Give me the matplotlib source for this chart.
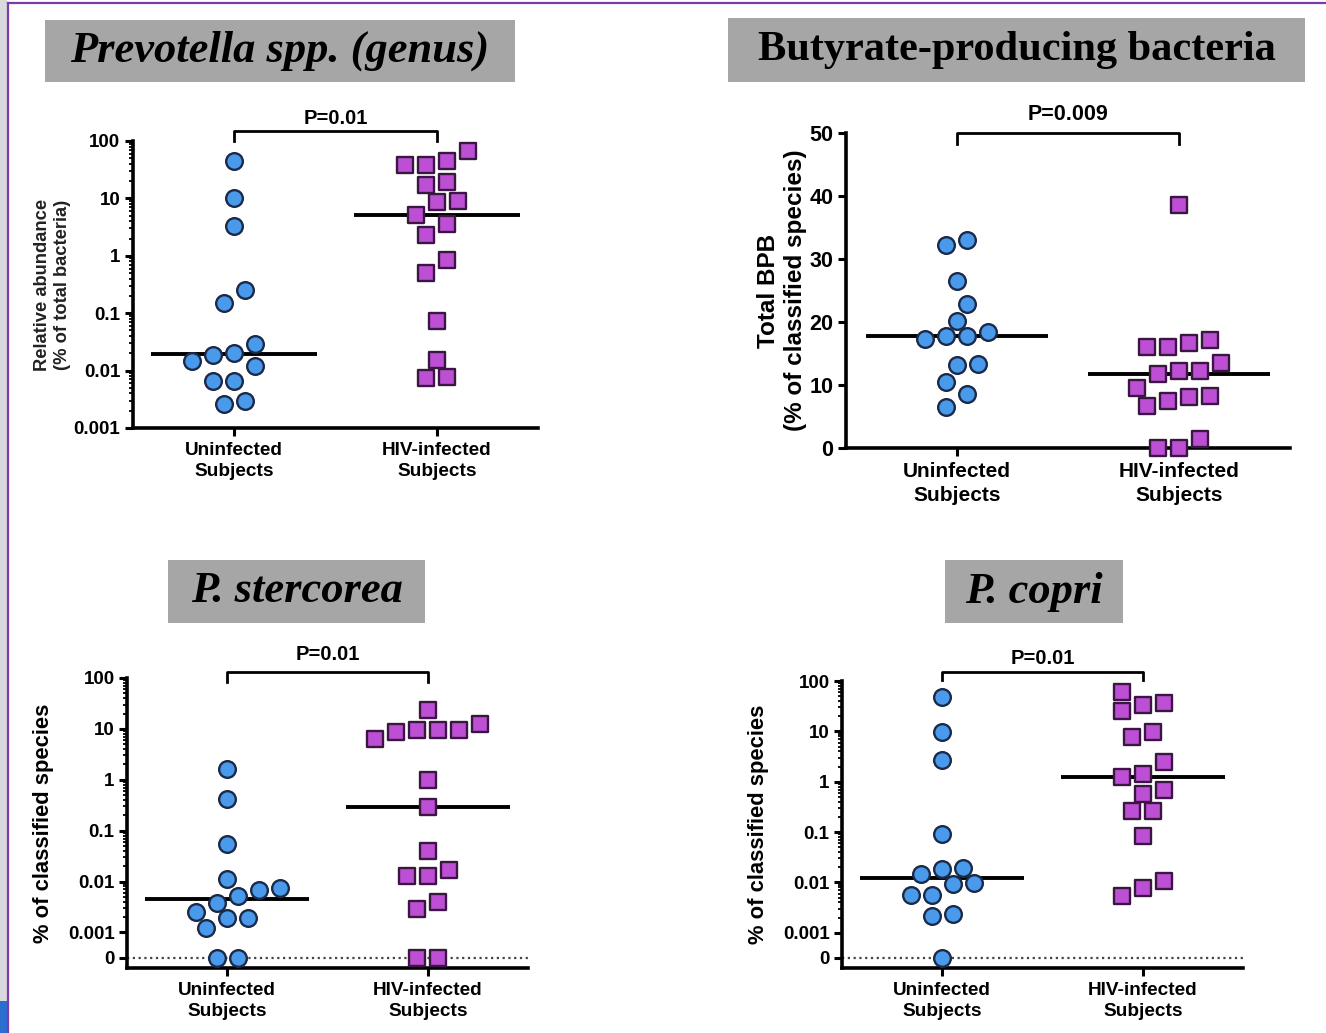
import numpy as np
import matplotlib
matplotlib.use("Agg")
import matplotlib.pyplot as plt
from matplotlib.patches import Rectangle
from matplotlib.markers import MarkerStyle
from matplotlib.transforms import blended_transform_factory

W, H = 1326, 1033

groups = ["Uninfected\nSubjects", "HIV-infected\nSubjects"]

# Prevotella spp. (genus), % of total bacteria
prev_uninf = [45, 10, 3.3, 0.25, 0.15, 0.029, 0.0145, 0.0185, 0.020, 0.012,
              0.0066, 0.0066, 0.0026, 0.003]
prev_hiv = [67, 38, 38, 45, 17, 19, 8.6, 9, 5.2, 3.6, 2.3, 0.85, 0.5, 0.072,
            0.015, 0.0073, 0.0077]

# total butyrate-producing bacteria, % of classified species
bpb_uninf = [33.0, 32.3, 26.5, 22.8, 20.1, 17.8, 17.3, 17.7, 18.4, 13.1, 13.3,
             10.4, 8.6, 6.5]
bpb_hiv = [38.5, 17.1, 16.1, 16.0, 16.7, 13.5, 12.2, 11.8, 12.3, 8.3, 7.5, 6.7,
           8.05, 9.5, 1.4, 0, 0]

# P. stercorea, % of classified species
sterc_uninf = [1.6, 0.42, 0.055, 0.011, 0.0067, 0.0073, 0.0053, 0.0038, 0.0025,
               0.0019, 0.0019, 0.0012, 0, 0]
sterc_hiv = [23, 9.4, 9.4, 6.3, 8.5, 9.4, 12.6, 0.97, 0.29, 0.04, 0.0166,
             0.0126, 0.0128, 0.0039, 0.0029, 0, 0]

# P. copri, % of classified species
copri_uninf = [48, 9.5, 2.7, 0.093, 0.019, 0.0185, 0.0147, 0.0091, 0.0098,
               0.0055, 0.0055, 0.0024, 0.0022, 0]
copri_hiv = [60, 36, 25, 33, 9.7, 7.6, 2.5, 1.26, 1.4, 0.57, 0.69, 0.26, 0.26,
             0.085, 0.0105, 0.0053, 0.0078]

titles = ["Prevotella spp. (genus)", "Butyrate-producing bacteria",
          "P. stercorea", "P. copri"]
p_values = ["P=0.01", "P=0.009", "P=0.01", "P=0.01"]

log_ticks = [0.001, 0.01, 0.1, 1, 10, 100]
log_labels = ["0.001", "0.01", "0.1", "1", "10", "100"]
zlog_ticks = [0] + log_ticks
zlog_labels = ["0"] + log_labels
lin_ticks = [0, 10, 20, 30, 40, 50]

BLUE, BLUE_EDGE = "#4A9AEC", "#1B2A48"
PURPLE, PURPLE_EDGE = "#BD4FD5", "#3A1740"
BOX = "#A6A6A6"
MS = 12.0

plt.rcParams["font.family"] = ["Liberation Sans", "DejaVu Sans"]

fig = plt.figure(figsize=(W / 100, H / 100), dpi=100)


def px_axes(left, top, right, bottom):
    return fig.add_axes([left / W, 1 - bottom / H, (right - left) / W,
                         (bottom - top) / H])


def title_box(x0, y0, x1, y1, text, style, size):
    fig.patches.append(Rectangle((x0 / W, 1 - y1 / H), (x1 - x0) / W,
                                 (y1 - y0) / H, transform=fig.transFigure,
                                 facecolor=BOX, edgecolor="none"))
    fig.text((x0 + x1) / 2 / W, 1 - (y0 + y1) / 2 / H, text,
             family=["Liberation Serif", "DejaVu Serif"], style=style,
             weight="bold", size=size, ha="center", va="center")


def swarm(ax, xc, vals, d=21.0):
    # simple row-based swarm, a bit like what Prism does
    vals = np.asarray(vals, float)
    y = ax.transData.transform(np.column_stack([np.full(len(vals), xc), vals]))[:, 1]
    px_unit = ax.transData.transform((1, 0))[0] - ax.transData.transform((0, 0))[0]
    order = np.argsort(y, kind="stable")
    rows = []
    for i in order:
        if rows and y[i] - y[rows[-1][0]] < 0.75 * d:
            rows[-1].append(i)
        else:
            rows.append([i])
    off = np.zeros(len(vals))
    done = []
    for row in rows:
        base = (np.arange(len(row)) - (len(row) - 1) / 2) * d
        shift = 0
        for s in [0, 0.5, -0.5, 1, -1, 1.5, -1.5, 2, -2]:
            ok = True
            for k, i in enumerate(row):
                for j in done:
                    if np.hypot(base[k] + s * d - off[j], y[i] - y[j]) < 0.85 * d:
                        ok = False
            if ok:
                shift = s
                break
        off[row] = base + shift * d
        done += row
    return xc + off / px_unit


def panel(ax, uninf, hiv, pval, bar_y, tick_y, text_y, fs_tick, fs_cat, fs_p,
          zero_line=False):
    for s in ["top", "right"]:
        ax.spines[s].set_visible(False)
    for s in ["left", "bottom"]:
        ax.spines[s].set_linewidth(2.6)
    ax.set_xlim(-0.5, 1.5)
    ax.set_xticks([0, 1], groups)
    ax.tick_params(axis="both", which="major", width=2.2, length=6,
                   labelsize=fs_tick, pad=3)
    ax.tick_params(axis="x", labelsize=fs_cat, pad=4)
    ax.tick_params(axis="y", which="minor", width=1.3, length=3)
    for lab in ax.get_xticklabels() + ax.get_yticklabels():
        lab.set_fontweight("bold")
    for lab in ax.get_xticklabels():
        lab.set_linespacing(1.35)
    if zero_line:
        ax.axhline(0, color="#444444", lw=1.6, ls=(0, (1, 1.6)), zorder=1)

    for i, (vals, mk, fc, ec) in enumerate([(uninf, "o", BLUE, BLUE_EDGE),
                                            (hiv, "s", PURPLE, PURPLE_EDGE)]):
        med = np.median(vals)
        ax.plot([i - 0.41, i + 0.41], [med, med], color="black", lw=2.8,
                solid_capstyle="butt", zorder=3)
        ax.plot(swarm(ax, i, vals), vals, linestyle="none",
                marker=MarkerStyle(mk, joinstyle="round"), ms=MS, mfc=fc,
                mec=ec, mew=1.7, clip_on=False, zorder=4)

    tr = blended_transform_factory(ax.transData, ax.transAxes)
    ax.plot([0, 0, 1, 1], [tick_y, bar_y, bar_y, tick_y], color="black",
            lw=2.0, transform=tr, clip_on=False)
    ax.text(0.5, text_y, pval, transform=tr, ha="center", va="bottom",
            size=fs_p, weight="bold")


minor_log = [k * 10.0 ** e for e in range(-3, 2) for k in range(2, 10)]

# top left: Prevotella genus
ax1 = px_axes(133, 141, 538, 428)
ax1.set_yscale("log")
ax1.set_ylim(0.001, 100)
ax1.set_yticks(log_ticks, log_labels)
ax1.set_yticks(minor_log, minor=True)
ax1.set_yticklabels([], minor=True)
panel(ax1, prev_uninf, prev_hiv, p_values[0], 1.035, 1.0, 1.045, 13.5, 13.7, 14.5)
ax1.set_ylabel("Relative abundance\n(% of total bacteria)", size=13.2,
               weight="bold", labelpad=2, color="#222222")

# top right: BPB
ax2 = px_axes(846, 133, 1290, 448)
ax2.set_ylim(0, 50)
ax2.set_yticks(lin_ticks)
panel(ax2, bpb_uninf, bpb_hiv, p_values[1], 1.0, 0.965, 1.025, 15.5, 15, 15.5)
ax2.set_ylabel("Total BPB\n(% of classified species)", size=17.5,
               weight="bold", labelpad=2)

# bottom: zero + log scale
for pos, uninf, hiv, pv, bars in [((127, 678, 528, 968), sterc_uninf, sterc_hiv,
                                   p_values[2], (1.021, 0.986, 1.048)),
                                  ((842, 681, 1243, 968), copri_uninf, copri_hiv,
                                   p_values[3], (1.031, 1.003, 1.045))]:
    ax = px_axes(*pos)
    ax.set_yscale("symlog", linthresh=1e-3, linscale=0.45)
    ax.set_ylim(-0.0004, 100)
    ax.set_yticks(zlog_ticks, zlog_labels)
    ax.set_yticks(minor_log, minor=True)
    ax.set_yticklabels([], minor=True)
    panel(ax, uninf, hiv, pv, *bars, 13.5, 13.7, 14.5, zero_line=True)
    ax.set_ylabel("% of classified species", size=15.8, weight="bold",
                  labelpad=10)

title_box(45, 20, 515, 82, titles[0], "italic", 32)
title_box(728, 18, 1305, 82, titles[1], "normal", 30.5)
title_box(168, 560, 425, 623, titles[2], "italic", 32)
title_box(945, 560, 1123, 623, titles[3], "italic", 32)

# slide frame
fig.patches.append(Rectangle((0, 0), 7 / W, 1, transform=fig.transFigure,
                             facecolor="#D9D9DE", edgecolor="none"))
fig.lines.append(plt.Line2D([8 / W, 8 / W], [0, 1 - 3 / H], color="#7A3CA8",
                            lw=1.6, transform=fig.transFigure))
fig.lines.append(plt.Line2D([8 / W, 1], [1 - 3 / H, 1 - 3 / H], color="#7A3CA8",
                            lw=1.6, transform=fig.transFigure))
fig.patches.append(Rectangle((0, 0), 9 / W, 32 / H, transform=fig.transFigure,
                             facecolor="#2A6FD0", edgecolor="none"))

fig.savefig("out.png", dpi=100)
